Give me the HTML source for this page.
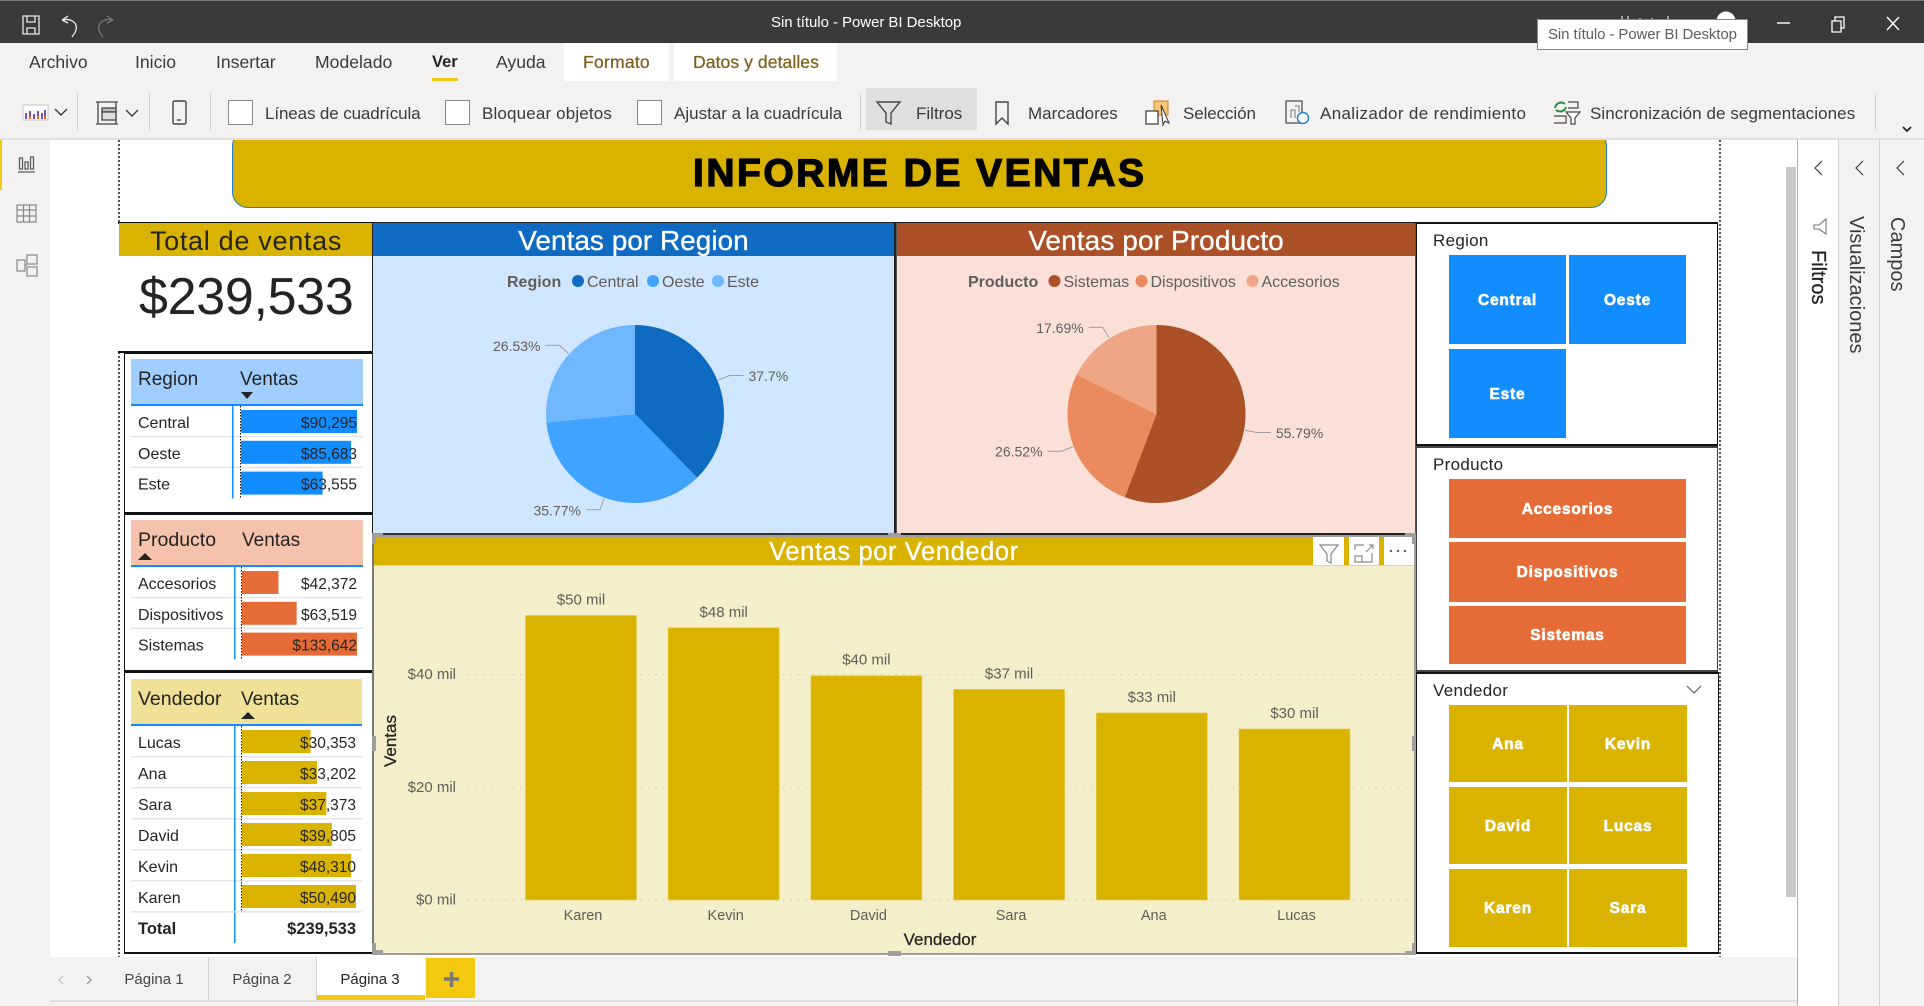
<!DOCTYPE html>
<html lang="es">
<head>
<meta charset="utf-8">
<title>Sin título - Power BI Desktop</title>
<style>
html,body{margin:0;padding:0;width:1924px;height:1006px;overflow:hidden;background:#fff;font-family:"Liberation Sans",sans-serif;}
#app{position:relative;width:1924px;height:1006px;overflow:hidden;background:#fff;}
.a{position:absolute;box-sizing:border-box;}
.t{position:absolute;white-space:nowrap;line-height:1;}
.rib{font-size:17.6px;color:#3b3a39;top:54px;}
.tool{font-size:17px;color:#3b3a39;top:105px;}
.chk{position:absolute;top:100px;width:25px;height:25px;background:#fff;border:1.5px solid #8a8886;box-sizing:border-box;}
.sep{position:absolute;top:93px;width:1px;height:40px;background:#d2d0ce;}
.tile{position:absolute;box-sizing:border-box;display:flex;align-items:center;justify-content:center;color:#fff;font-weight:bold;font-size:15.5px;letter-spacing:.8px;-webkit-text-stroke:.6px #fff;padding-top:2px;}
.blue{background:#118dff;}.orange{background:#e66c37;}.gold{background:#d9b300;}
.sl-label{position:absolute;font-size:17px;line-height:1;color:#252423;letter-spacing:.3px;left:1433px;white-space:nowrap;}
.box{position:absolute;box-sizing:border-box;border:2px solid #111;border-left-width:1px;border-right-width:1px;background:#fff;}
.ptitle{position:absolute;display:flex;align-items:center;justify-content:center;color:#fff;font-size:28px;line-height:1;white-space:nowrap;box-sizing:border-box;-webkit-text-stroke:.3px #fff;padding-top:3px;}
.vert{position:absolute;writing-mode:vertical-rl;font-size:20px;line-height:1;white-space:nowrap;color:#3b3a39;}
svg.layer{position:absolute;left:0;top:0;width:1924px;height:1006px;pointer-events:none;}
.handle{position:absolute;background:#a19f9d;}
.tab{position:absolute;top:972px;font-size:15px;line-height:1;color:#484644;white-space:nowrap;transform:translateX(-50%);}
</style>
</head>
<body>
<div id="app">

<!-- title bar -->
<div class="a" style="left:0;top:0;width:1924px;height:43px;background:#3b3a39;border-top:1px solid #777;"></div>
<svg class="layer" style="z-index:3">
  <g fill="none" stroke="#e8e8e8" stroke-width="1.3"><path d="M23 16h16v18H23z"/><path d="M27 16v6h8v-6M27 34v-6h8v6"/></g>
  <path d="M62 20l6-4M62 20l6 3M62 20c8-2 16 2 14 10-1 4-3 5-4 7" fill="none" stroke="#e8e8e8" stroke-width="1.3"/>
  <path d="M113 20l-6-4M113 20l-6 3M113 20c-8-2-16 2-14 10 1 4 3 5 4 7" fill="none" stroke="#777" stroke-width="1.3"/>
  <circle cx="1726" cy="21" r="9.5" fill="#fff"/>
  <path d="M1622 16v6M1628 16v6M1640 18v4M1652 18v4M1668 16v6" stroke="#bbb" stroke-width="1.5"/>
  <path d="M1777 23h13" stroke="#fff" stroke-width="1.4"/>
  <g fill="none" stroke="#fff" stroke-width="1.3"><path d="M1832 21h9v11h-9z"/><path d="M1835 21v-4h9v11h-3"/></g>
  <path d="M1887 17l12 13M1899 17l-12 13" stroke="#fff" stroke-width="1.4"/>
</svg>
<div class="t" style="left:771px;top:15px;font-size:15px;color:#fff;z-index:3;letter-spacing:-.05px">Sin título - Power BI Desktop</div>
<div class="a" style="left:1537px;top:19px;width:211px;height:31px;background:#fff;border:1px solid #8a8886;z-index:4"></div>
<div class="t" style="left:1548px;top:27px;font-size:15px;color:#605e5c;z-index:5;letter-spacing:-.1px">Sin título - Power BI Desktop</div>

<!-- ribbon -->
<div class="a" style="left:0;top:43px;width:1924px;height:97px;background:#f3f2f1;border-bottom:2px solid #e1dfdd;"></div>
<div class="a" style="left:564px;top:43px;width:105px;height:38px;background:#fff"></div>
<div class="a" style="left:674px;top:43px;width:163px;height:38px;background:#fff"></div>
<div class="t rib" style="left:29px">Archivo</div>
<div class="t rib" style="left:135px">Inicio</div>
<div class="t rib" style="left:216px">Insertar</div>
<div class="t rib" style="left:315px">Modelado</div>
<div class="t rib" style="left:432px;font-weight:bold;font-size:16.5px;color:#252423">Ver</div>
<div class="a" style="left:432px;top:78px;width:26px;height:3px;background:#f2c811"></div>
<div class="t rib" style="left:496px">Ayuda</div>
<div class="t rib" style="left:583px;color:#7d5f1a;-webkit-text-stroke:.25px #7d5f1a;letter-spacing:.2px">Formato</div>
<div class="t rib" style="left:693px;color:#7d5f1a;-webkit-text-stroke:.25px #7d5f1a;letter-spacing:.05px">Datos y detalles</div>

<div class="sep" style="left:77px"></div>
<div class="sep" style="left:149px"></div>
<div class="sep" style="left:210px"></div>
<div class="sep" style="left:860px"></div>
<div class="sep" style="left:1875px"></div>
<div class="a" style="left:866px;top:88px;width:111px;height:50px;background:#e1dfdd"></div>

<div class="chk" style="left:228px"></div>
<div class="t tool" style="left:265px;letter-spacing:-.12px">Líneas de cuadrícula</div>
<div class="chk" style="left:445px"></div>
<div class="t tool" style="left:482px;letter-spacing:.15px">Bloquear objetos</div>
<div class="chk" style="left:637px"></div>
<div class="t tool" style="left:674px">Ajustar a la cuadrícula</div>
<div class="t tool" style="left:916px">Filtros</div>
<div class="t tool" style="left:1028px">Marcadores</div>
<div class="t tool" style="left:1183px;letter-spacing:-.1px">Selección</div>
<div class="t tool" style="left:1320px;letter-spacing:.35px">Analizador de rendimiento</div>
<div class="t tool" style="left:1590px;letter-spacing:.08px">Sincronización de segmentaciones</div>

<svg class="layer" style="z-index:2">
  <g><rect x="23" y="105" width="25" height="15" fill="#fff" stroke="#c8c6c4"/><path d="M26 119v-6M30 119v-8M34 119v-5M38 119v-8M42 119v-6M45 119v-9" stroke-width="2" stroke="#744ec2"/><path d="M30 119v-3M38 119v-3M45 119v-3" stroke-width="2" stroke="#e66c37"/></g>
  <path d="M55 109l6 6 6-6" fill="none" stroke="#3b3a39" stroke-width="1.4"/>
  <g fill="none" stroke="#484644" stroke-width="1.3"><path d="M96 102h22M96 124h22M98 102v22M116 102v22"/><rect x="102" y="108" width="14" height="4" fill="#bbb"/><rect x="102" y="112" width="14" height="8" fill="#ddd"/></g>
  <path d="M126 110l6 6 6-6" fill="none" stroke="#3b3a39" stroke-width="1.4"/>
  <g fill="none" stroke="#484644" stroke-width="1.4"><rect x="173" y="101" width="13" height="23" rx="1.5"/><path d="M177 120h4"/></g>
  <path d="M877 102h23l-9 11v11l-5-2v-9z" fill="none" stroke="#484644" stroke-width="1.4"/>
  <path d="M996 102h12v22l-6-6-6 6z" fill="none" stroke="#484644" stroke-width="1.4"/>
  <g><rect x="1154" y="101" width="14" height="14" fill="#f8c77b" stroke="#c87c1e"/><rect x="1146" y="111" width="12" height="13" fill="#fff" stroke="#484644" stroke-width="1.3"/><path d="M1161 105l8 18-4-2-2 4z" fill="#fff" stroke="#333"/></g>
  <g fill="none"><rect x="1286" y="101" width="16" height="22" stroke="#484644" stroke-width="1.2"/><path d="M1291 118v-8h4v8M1295 106h4v6" stroke="#777"/><circle cx="1303" cy="118" r="5.5" stroke="#1f7ec9" stroke-width="1.4" fill="#fff"/></g>
  <g fill="none"><path d="M1555 108c1-5 6-7 10-4M1566 107c-1 4-6 6-10 3" stroke="#2a8a3e" stroke-width="2"/><path d="M1568 102h10v6h-10M1554 116h12v7h-12" stroke="#484644" stroke-width="1.2"/><path d="M1566 112h14l-5 6v6h-4v-6z" fill="#fff" stroke="#484644" stroke-width="1.2"/></g>
  <path d="M1903 127l4 4 4-4" fill="none" stroke="#252423" stroke-width="1.8"/>
</svg>

<!-- left rail -->
<div class="a" style="left:0;top:140px;width:50px;height:866px;background:#f3f2f1"></div>
<div class="a" style="left:0;top:140px;width:2px;height:50px;background:#f2c811"></div>
<svg class="layer" style="z-index:2">
  <g fill="none" stroke="#605e5c" stroke-width="1.3"><path d="M18 172h17"/><rect x="19.500" y="158" width="3" height="11"/><rect x="25" y="162" width="3" height="7"/><rect x="30.500" y="157" width="3" height="12"/></g>
  <g fill="none" stroke="#8a8886" stroke-width="1.2"><rect x="17" y="205" width="19" height="17"/><path d="M17 210h19M17 216h19M23.500 205v17M29.500 205v17"/></g>
  <g fill="none" stroke="#8a8886" stroke-width="1.2"><rect x="17" y="260" width="8" height="11"/><rect x="27" y="255" width="10" height="9"/><rect x="27" y="267" width="10" height="9"/><path d="M25 265h2"/></g>
</svg>

<!-- canvas guides -->
<div class="a" style="left:118px;top:140px;width:0;height:818px;border-left:2px dotted #555"></div>
<div class="a" style="left:1719px;top:140px;width:0;height:818px;border-left:2px dotted #555"></div>
<div class="a" style="left:1786px;top:167px;width:10px;height:730px;background:#c8c8c8"></div>

<!-- right panels -->
<div class="a" style="left:1797px;top:140px;width:1px;height:866px;background:#b3b0ad"></div>
<div class="a" style="left:1838px;top:140px;width:42px;height:866px;background:#f3f2f1;border-left:1px solid #d2d0ce;border-right:1px solid #d2d0ce"></div>
<div class="a" style="left:1880px;top:140px;width:44px;height:866px;background:#f3f2f1"></div>
<svg class="layer" style="z-index:2">
  <path d="M1822 161l-7 7 7 7" fill="none" stroke="#3b3a39" stroke-width="1.2"/>
  <path d="M1863 161l-7 7 7 7" fill="none" stroke="#3b3a39" stroke-width="1.2"/>
  <path d="M1904 161l-7 7 7 7" fill="none" stroke="#3b3a39" stroke-width="1.2"/>
  <path d="M1826 219v15l-7-5h-5v-4h5z" fill="none" stroke="#777" stroke-width="1.1"/>
</svg>
<div class="vert" style="left:1808px;top:250px;color:#252423;-webkit-text-stroke:.3px #252423">Filtros</div>
<div class="vert" style="left:1846px;top:216px;">Visualizaciones</div>
<div class="vert" style="left:1887px;top:217px;">Campos</div>

<!-- banner -->
<div class="a" style="left:232px;top:130px;width:1375px;height:78px;background:#d9b300;border:1px solid #1f7ec9;border-radius:16px"></div>
<div class="a" style="left:0;top:130px;width:1924px;height:8px;background:#f3f2f1;border-bottom:2px solid #e1dfdd;box-sizing:content-box;height:8px"></div>
<div class="t" style="left:693px;top:154px;font-size:39px;font-weight:bold;color:#000;letter-spacing:2.5px;-webkit-text-stroke:1.3px #000">INFORME DE VENTAS</div>

<!-- total card -->
<div class="a" style="left:118px;top:222px;width:256px;height:131px;background:#fff;border-top:2px solid #111;border-bottom:2px solid #111"></div>
<div class="ptitle" style="left:119px;top:223px;width:254px;height:33px;background:#d9b300;color:#252423;font-size:27px;letter-spacing:.7px;-webkit-text-stroke:0">Total de ventas</div>
<div class="t" style="left:139px;top:271px;font-size:52px;color:#252423;letter-spacing:-.3px">$239,533</div>

<!-- table boxes -->
<div class="box" style="left:124px;top:352px;width:250px;height:162px"></div>
<div class="box" style="left:124px;top:513px;width:250px;height:159px"></div>
<div class="box" style="left:124px;top:671px;width:250px;height:283px"></div>

<!-- table headers -->
<div class="a" style="left:131px;top:359px;width:232px;height:47px;background:#a0cfff;border-bottom:2px solid #118dff"></div>
<div class="t" style="left:138px;top:370px;font-size:19px;color:#252423">Region</div>
<div class="t" style="left:240px;top:370px;font-size:19px;color:#252423">Ventas</div>
<div class="a" style="left:241px;top:392px;width:0;height:0;border-left:6px solid transparent;border-right:6px solid transparent;border-top:7px solid #252423"></div>

<div class="a" style="left:131px;top:520px;width:232px;height:47px;background:#f4c2ad;border-bottom:2px solid #118dff"></div>
<div class="t" style="left:138px;top:531px;font-size:19.500px;color:#252423">Producto</div>
<div class="t" style="left:242px;top:531px;font-size:19px;color:#252423">Ventas</div>
<div class="a" style="left:138px;top:553px;width:0;height:0;border-left:7px solid transparent;border-right:7px solid transparent;border-bottom:7px solid #252423"></div>

<div class="a" style="left:131px;top:679px;width:231px;height:47px;background:#f0e199;border-bottom:2px solid #118dff"></div>
<div class="t" style="left:138px;top:690px;font-size:19.500px;color:#252423">Vendedor</div>
<div class="t" style="left:241px;top:690px;font-size:19px;color:#252423">Ventas</div>
<div class="a" style="left:241px;top:712px;width:0;height:0;border-left:7px solid transparent;border-right:7px solid transparent;border-bottom:7px solid #252423"></div>

<!-- pie panels -->
<div class="a" style="left:372px;top:222px;width:524px;height:313px;background:#cfe6fe;border:2px solid #222;border-bottom:2px solid #333;border-left:1px solid #222"></div>
<div class="ptitle" style="left:373px;top:223px;width:521px;height:33px;background:#0f6bc1">Ventas por Region</div>
<div class="a" style="left:896px;top:222px;width:521px;height:313px;background:#fae0d7;border:2px solid #222;border-left:1px solid #555;border-right:2px solid #555"></div>
<div class="ptitle" style="left:897px;top:223px;width:518px;height:33px;background:#ab5027;letter-spacing:.1px">Ventas por Producto</div>

<!-- bar panel -->
<div class="a" style="left:372px;top:535px;width:1044px;height:420px;background:#f5eecb;border:2px solid #a19f9d;border-left:2px solid #777"></div>
<div class="ptitle" style="left:374px;top:537px;width:1040px;height:29px;background:#d9b300;border-bottom:1px solid #ecd875;font-size:25.500px;letter-spacing:.6px">Ventas por Vendedor</div>
<div class="a" style="left:1313px;top:537px;width:31px;height:28px;background:#fff"></div>
<div class="a" style="left:1349px;top:537px;width:30px;height:28px;background:#fff"></div>
<div class="a" style="left:1384px;top:537px;width:30px;height:28px;background:#fff"></div>
<svg class="layer" style="z-index:3">
  <path d="M1320 545h18l-7 9v9l-4-2v-7z" fill="none" stroke="#8a8886" stroke-width="1.2"/>
  <path d="M1355 550v-5h9M1372 553v9h-17v-6h7v6M1366 552l6-6M1369 545h4v4" fill="none" stroke="#8a8886" stroke-width="1.2"/>
  <g fill="#605e5c"><circle cx="1391" cy="551" r="1.2"/><circle cx="1398" cy="551" r="1.2"/><circle cx="1405" cy="551" r="1.2"/></g>
</svg>
<div class="handle" style="left:372px;top:533px;width:11px;height:4px;z-index:4"></div>
<div class="handle" style="left:372px;top:533px;width:4px;height:11px;z-index:4"></div>
<div class="handle" style="left:888px;top:533px;width:13px;height:4px;z-index:4"></div>
<div class="handle" style="left:1405px;top:533px;width:11px;height:4px;z-index:4"></div>
<div class="handle" style="left:1412px;top:533px;width:4px;height:11px;z-index:4"></div>
<div class="handle" style="left:372px;top:736px;width:4px;height:15px;z-index:4"></div>
<div class="handle" style="left:1412px;top:736px;width:4px;height:15px;z-index:4"></div>
<div class="handle" style="left:372px;top:950px;width:11px;height:5px;z-index:4"></div>
<div class="handle" style="left:372px;top:943px;width:4px;height:11px;z-index:4"></div>
<div class="handle" style="left:888px;top:951px;width:13px;height:5px;z-index:4"></div>
<div class="handle" style="left:1405px;top:951px;width:11px;height:4px;z-index:4"></div>
<div class="handle" style="left:1412px;top:943px;width:4px;height:11px;z-index:4"></div>

<!-- slicers -->
<div class="box" style="left:1416px;top:222px;width:302px;height:224px"></div>
<div class="box" style="left:1416px;top:446px;width:302px;height:226px;border-color:#444"></div>
<div class="box" style="left:1416px;top:672px;width:303px;height:282px"></div>

<div class="sl-label" style="top:232px">Region</div>
<div class="tile blue" style="left:1449px;top:255px;width:117px;height:89px">Central</div>
<div class="tile blue" style="left:1569px;top:255px;width:117px;height:89px">Oeste</div>
<div class="tile blue" style="left:1449px;top:349px;width:117px;height:89px">Este</div>

<div class="sl-label" style="top:456px">Producto</div>
<div class="tile orange" style="left:1449px;top:479px;width:237px;height:59px">Accesorios</div>
<div class="tile orange" style="left:1449px;top:542px;width:237px;height:60px">Dispositivos</div>
<div class="tile orange" style="left:1449px;top:606px;width:237px;height:58px">Sistemas</div>

<div class="sl-label" style="top:682px">Vendedor</div>
<svg class="layer" style="z-index:2"><path d="M1687 686l7 7 7-7" fill="none" stroke="#605e5c" stroke-width="1.2"/></svg>
<div class="tile gold" style="left:1449px;top:705px;width:118px;height:77px">Ana</div>
<div class="tile gold" style="left:1569px;top:705px;width:118px;height:77px">Kevin</div>
<div class="tile gold" style="left:1449px;top:787px;width:118px;height:77px">David</div>
<div class="tile gold" style="left:1569px;top:787px;width:118px;height:77px">Lucas</div>
<div class="tile gold" style="left:1449px;top:869px;width:118px;height:78px">Karen</div>
<div class="tile gold" style="left:1569px;top:869px;width:118px;height:78px">Sara</div>

<!-- bottom tabs -->
<div class="a" style="left:50px;top:957px;width:1747px;height:49px;background:#f3f2f1"></div>
<div class="a" style="left:50px;top:1000px;width:1747px;height:2px;background:#e1dfdd"></div>
<div class="a" style="left:208px;top:957px;width:1px;height:43px;background:#d2d0ce"></div>
<div class="a" style="left:316px;top:957px;width:1px;height:43px;background:#d2d0ce"></div>
<div class="a" style="left:317px;top:957px;width:108px;height:43px;background:#fff;border-bottom:5px solid #f2c811"></div>
<div class="tab" style="left:154px">Página 1</div>
<div class="tab" style="left:262px">Página 2</div>
<div class="tab" style="left:370px;color:#252423">Página 3</div>
<div class="a" style="left:426px;top:958px;width:49px;height:40px;background:#f2c811"></div>
<svg class="layer" style="z-index:2">
  <path d="M444 979h15M451.500 972v15" stroke="#7a7870" stroke-width="3.5"/>
  <path d="M63 976l-4 4 4 4" fill="none" stroke="#c8c6c4" stroke-width="1.5"/>
  <path d="M87 976l4 4-4 4" fill="none" stroke="#a19f9d" stroke-width="1.5"/>
</svg>

<!-- charts -->
<svg class="layer" id="tables" style="z-index:2"></svg>
<svg class="layer" id="pies" style="z-index:2"></svg>
<svg class="layer" id="bars" style="z-index:2"></svg>
</div>

<script>
const regionCategories = ['Central', 'Oeste', 'Este'];
const regionValues = [90295, 85683, 63555];
const productTableCategories = ['Accesorios', 'Dispositivos', 'Sistemas'];
const productTableValues = [42372, 63519, 133642];
const sellerTableCategories = ['Lucas', 'Ana', 'Sara', 'David', 'Kevin', 'Karen'];
const sellerTableValues = [30353, 33202, 37373, 39805, 48310, 50490];
const productPieCategories = ['Sistemas', 'Dispositivos', 'Accesorios'];
const productPieValues = [133642, 63519, 42372];
const barCategories = ['Karen', 'Kevin', 'David', 'Sara', 'Ana', 'Lucas'];
const barValues = [50490, 48310, 39805, 37373, 33202, 30353];
const yTickValues = [0, 20000, 40000];

const NS = 'http://www.w3.org/2000/svg';
function mk(parent, tag, attrs, txt) {
  const el = document.createElementNS(NS, tag);
  for (const k in attrs) el.setAttribute(k, attrs[k]);
  if (txt !== undefined) el.textContent = txt;
  parent.appendChild(el);
  return el;
}
const money = v => '$' + Math.round(v).toLocaleString('en-US');
const mil = v => '$' + Math.round(v / 1000) + ' mil';
const pct = v => String(+(v * 100).toFixed(2)) + '%';

/* ---------- tables with data bars ---------- */
function drawTable(cfg) {
  const svg = document.getElementById('tables');
  const max = Math.max.apply(null, cfg.values);
  const xBar = v => cfg.barX + v / max * cfg.barW;
  const rowY = i => cfg.top + i * cfg.rowH;
  cfg.values.forEach((v, i) => {
    const y = rowY(i);
    if (i > 0) {
      const sep = mk(svg, 'rect', {x: 131, y: y - 1, width: cfg.right - 131, height: 1.500, fill: '#e5e5e5'});
      
      
    }
    const bar = mk(svg, 'rect', {x: cfg.barX, y: y + 4, width: xBar(v) - cfg.barX, height: 23, fill: cfg.color});
    
    
    const name = mk(svg, 'text', {x: 138, y: y + 22, 'font-size': 16, fill: '#252423'}, cfg.cats[i]);
    
    
    const val = mk(svg, 'text', {x: cfg.textX, y: y + 22, 'font-size': 15.5, fill: '#252423', 'text-anchor': 'end'}, money(v));
    
    
  });
  const endY = rowY(cfg.values.length);
  const blue = mk(svg, 'rect', {x: cfg.lineX, y: cfg.top, width: 1.500, height: (cfg.total ? endY + 31 : endY) - cfg.top, fill: '#118dff'});
  
  
  const dots = mk(svg, 'line', {x1: cfg.barX - .5, x2: cfg.barX - .5, y1: cfg.top, y2: endY, stroke: '#111', 'stroke-width': 1, 'stroke-dasharray': '1.500 1.500'});
  
  
  if (cfg.total) {
    const sep = mk(svg, 'rect', {x: 131, y: endY - 1, width: cfg.right - 131, height: 1.500, fill: '#e5e5e5'});
    
    
    const tl = mk(svg, 'text', {x: 138, y: endY + 22, 'font-size': 16.5, 'font-weight': 'bold', fill: '#252423'}, 'Total');
    
    
    const sum = cfg.values.reduce((a, b) => a + b, 0);
    const tv = mk(svg, 'text', {x: cfg.textX, y: endY + 22, 'font-size': 16.5, 'font-weight': 'bold', fill: '#252423', 'text-anchor': 'end'}, money(sum));
    
    
  }
}
drawTable({cats: regionCategories, values: regionValues, top: 406, rowH: 30.8, barX: 241, barW: 116, textX: 357, lineX: 232, right: 363, color: '#118dff'});
drawTable({cats: productTableCategories, values: productTableValues, top: 567, rowH: 30.8, barX: 242, barW: 115, textX: 357, lineX: 234, right: 363, color: '#e66c37'});
drawTable({cats: sellerTableCategories, values: sellerTableValues, top: 726, rowH: 31, barX: 242, barW: 114, textX: 356, lineX: 234, right: 362, color: '#d9b300', total: true});

/* ---------- pie charts ---------- */
function drawPie(cfg) {
  const svg = document.getElementById('pies');
  const total = cfg.values.reduce((a, b) => a + b, 0);
  const pt = (frac, r) => {
    const a = frac * 2 * Math.PI;
    return [cfg.cx + r * Math.sin(a), cfg.cy - r * Math.cos(a)];
  };
  let acc = 0;
  cfg.values.forEach((v, i) => {
    const share = v / total;
    const p0 = pt(acc, cfg.r), p1 = pt(acc + share, cfg.r);
    const large = share > .5 ? 1 : 0;
    const slice = mk(svg, 'path', {d: 'M' + cfg.cx + ' ' + cfg.cy + 'L' + p0[0] + ' ' + p0[1] + 'A' + cfg.r + ' ' + cfg.r + ' 0 ' + large + ' 1 ' + p1[0] + ' ' + p1[1] + 'Z', fill: cfg.colors[i]});
    
    
    const mid = acc + share / 2;
    const a = pt(mid, cfg.r + 1), b = pt(mid, cfg.r + 13);
    const right = mid < .5;
    const ex = b[0] + (right ? 14 : -14);
    const leader = mk(svg, 'path', {d: 'M' + a[0] + ' ' + a[1] + 'L' + b[0] + ' ' + b[1] + 'L' + ex + ' ' + b[1], fill: 'none', stroke: '#a19f9d', 'stroke-width': 1});
    
    
    const lab = mk(svg, 'text', {x: ex + (right ? 5 : -5), y: b[1] + 5.5, 'font-size': 14, fill: '#605e5c', 'text-anchor': right ? 'start' : 'end'}, pct(share));
    
    
    acc += share;
  });
  const lt = mk(svg, 'text', {x: cfg.legendTitleX, y: 287, 'font-size': 16, 'font-weight': 'bold', fill: '#605e5c'}, cfg.legendTitle);
  
  
  cfg.cats.forEach((c, i) => {
    const dot = mk(svg, 'circle', {cx: cfg.legendDots[i], cy: 281, r: 6, fill: cfg.colors[i]});
    
    
    const tx = mk(svg, 'text', {x: cfg.legendDots[i] + 9, y: 287, 'font-size': 16, fill: '#605e5c'}, c);
    
    
  });
}
drawPie({cats: regionCategories, values: regionValues, cx: 635, cy: 414, r: 89, colors: ['#0f6bc1', '#3fa3ff', '#6fb8ff'], legendTitle: 'Region', legendTitleX: 507, legendDots: [578, 653, 718]});
drawPie({cats: productPieCategories, values: productPieValues, cx: 1156.5, cy: 414, r: 89, colors: ['#ab5027', '#eb895f', '#efa686'], legendTitle: 'Producto', legendTitleX: 968, legendDots: [1054.5, 1141.5, 1252.5]});

/* ---------- bar chart ---------- */
(function () {
  const svg = document.getElementById('bars');
  const y0 = 900, pxPerUnit = 112.7 / 20000;
  const yScale = v => y0 - v * pxPerUnit;
  const xCenter = i => 581 + i * 142.7;
  const barW = 111;
  yTickValues.forEach(t => {
    const y = yScale(t);
    const g = mk(svg, 'line', {x1: 468, x2: 1407, y1: y, y2: y, stroke: '#c9c5b4', 'stroke-width': 1.2, 'stroke-dasharray': '1.200 6.300'});
    
    
    const lab = mk(svg, 'text', {x: 456, y: y + 4.5, 'font-size': 15, fill: '#605e5c', 'text-anchor': 'end'}, mil(t));
    
    
  });
  barValues.forEach((v, i) => {
    const cx = xCenter(i), y = yScale(v);
    const r = mk(svg, 'rect', {x: cx - barW / 2, y: y, width: barW, height: y0 - y, fill: '#d9b300', stroke: '#e6cb4a', 'stroke-width': .6});
    
    
    const vl = mk(svg, 'text', {x: cx, y: y - 11, 'font-size': 15, fill: '#605e5c', 'text-anchor': 'middle'}, mil(v));
    
    
    const cl = mk(svg, 'text', {x: cx + 2, y: 920, 'font-size': 14.500, fill: '#605e5c', 'text-anchor': 'middle'}, barCategories[i]);
    
    
  });
  const yt = mk(svg, 'text', {x: 0, y: 0, 'font-size': 17, fill: '#252423', 'text-anchor': 'middle', stroke: '#252423', 'stroke-width': .3, transform: 'translate(396,741) rotate(-90)'}, 'Ventas');
  
  
  const xt = mk(svg, 'text', {x: 940, y: 945, 'font-size': 17, fill: '#252423', 'text-anchor': 'middle', 'stroke': '#252423', 'stroke-width': .25}, 'Vendedor');
  
  
})();
</script>
</body>
</html>
